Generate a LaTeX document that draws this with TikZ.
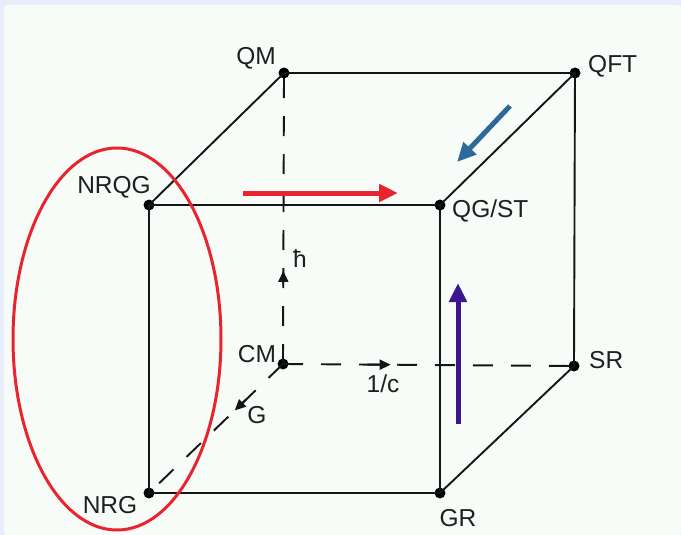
\documentclass[tikz,border=0pt]{standalone}
\usepackage{fontspec}
\setmainfont{Liberation Sans}
\usetikzlibrary{arrows.meta,calc}
\definecolor{outerbg}{HTML}{E7EEF9}
\definecolor{innerbg}{HTML}{F8FCF8}
\definecolor{edgec}{HTML}{151515}
\definecolor{redc}{HTML}{E8242E}
\definecolor{bluec}{HTML}{2C6A9C}
\definecolor{purplec}{HTML}{3B168E}
\tikzset{
  dot/.style={circle,fill=black,inner sep=0pt,minimum size=11pt},
  lbl/.style={inner sep=0pt,text=black!88,font=\fontsize{24.5}{28}\selectfont},
  edge/.style={draw=edgec,line width=1.9pt},
  hidden/.style={draw=edgec,line width=1.9pt,dash pattern=on 20pt off 18pt},
  smallarrow/.style={draw=edgec,line width=1.9pt,-{Triangle[length=11pt,width=10pt]}},
  bigarrow/.style={line width=5pt,-{Triangle[length=19pt,width=17pt]}},
}
\begin{document}
\begin{tikzpicture}[x=1pt,y=-1pt]
\useasboundingbox (0,0) rectangle (681,535);
\fill[outerbg] (0,0) rectangle (681,535);
\fill[innerbg,rounded corners=3pt] (4,5) rectangle (681,535);
% corners
\node[dot] (QM) at (284,73) {};
\node[dot] (QFT) at (575,73) {};
\node[dot] (NRQG) at (149,205) {};
\node[dot] (QGST) at (440,205) {};
\node[dot] (CM) at (283,364) {};
\node[dot] (SR) at (574,366) {};
\node[dot] (NRG) at (149,493) {};
\node[dot] (GR) at (440,493) {};
% solid edges
\path[edge] (QM.center) -- (QFT.center) -- (SR.center);
\path[edge] (NRQG.center) -- (QGST.center) -- (GR.center) -- (NRG.center) -- cycle;
\path[edge] (QM.center) -- (NRQG.center);
\path[edge] (QFT.center) -- (QGST.center);
\path[edge] (SR.center) -- (GR.center);
% hidden edges
\path[hidden] (CM.center) -- (QM.center);
\path[hidden] (CM.center) -- (SR.center);
\path[hidden] (CM.center) -- (NRG.center);
% small arrows on hidden edges
\coordinate (hA) at ($(QM)!0.73!(CM)$);
\coordinate (hB) at ($(QM)!0.68!(CM)$);
\path[smallarrow] (hA) -- (hB);
\coordinate (cA) at ($(CM)!0.29!(SR)$);
\coordinate (cB) at ($(CM)!0.37!(SR)$);
\path[smallarrow] (cA) -- (cB);
\coordinate (gA) at ($(CM)!0.27!(NRG)$);
\coordinate (gB) at ($(CM)!0.36!(NRG)$);
\path[smallarrow] (gA) -- (gB);
% labels
\node[lbl] (tQM) at (256,58) {QM};
\node[lbl,anchor=west] (tQFT) at (588,66) {QFT};
\node[lbl] (tNRQG) at (114,187) {NRQG};
\node[lbl,anchor=west] (tQGST) at (452,211) {QG/ST};
\node[lbl] (tCM) at (257,354) {CM};
\node[lbl,anchor=west] (tSR) at (589,360) {SR};
\node[lbl] (tNRG) at (110,505) {NRG};
\node[lbl] (tGR) at (458,518) {GR};
\node[lbl] (th) at (300,259) {ħ};
\node[lbl] (tc) at (383,384) {1/c};
\node[lbl] (tG) at (257,415) {G};
% coloured arrows
\coordinate (rA) at (243,193);
\coordinate (rB) at (398,193);
\path[bigarrow,draw=redc] (rA) -- (rB);
\coordinate (bA) at (510,106);
\coordinate (bB) at (457,162);
\path[bigarrow,draw=bluec] (bA) -- (bB);
\coordinate (pA) at (458,424);
\coordinate (pB) at (458,283);
\path[bigarrow,draw=purplec] (pA) -- (pB);
% ellipse
\coordinate (ellc) at (117,339);
\draw[redc,line width=3pt] (ellc) ellipse [x radius=104pt, y radius=191pt];
\end{tikzpicture}
\end{document}
